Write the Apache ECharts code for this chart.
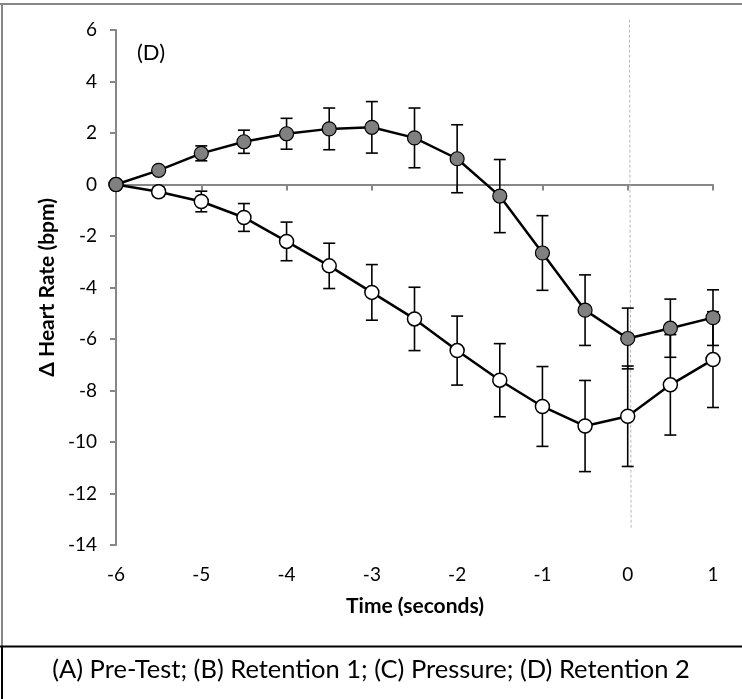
<!DOCTYPE html>
<html>
<head>
<meta charset="utf-8">
<script src="https://cdn.jsdelivr.net/npm/echarts@6/dist/echarts.min.js"></script>
<style>html,body{margin:0;padding:0;background:#fff}#c{width:742px;height:699px}</style>
</head>
<body>
<div id="c"></div>
<script>
var times = [-6, -5.5, -5, -4.5, -4, -3.5, -3, -2.5, -2, -1.5, -1, -0.5, 0, 0.5, 1];
var grayMean = [0, 0.55, 1.21, 1.66, 1.97, 2.16, 2.22, 1.81, 1.0, -0.45, -2.66, -4.88, -5.98, -5.58, -5.17];
var grayErr  = [0, 0.08, 0.29, 0.45, 0.6, 0.81, 1.0, 1.16, 1.32, 1.42, 1.45, 1.37, 1.18, 1.13, 1.08];
var whiteMean = [0, -0.28, -0.66, -1.28, -2.21, -3.16, -4.19, -5.22, -6.45, -7.6, -8.62, -9.38, -9.0, -7.78, -6.8];
var whiteErr  = [0, 0.18, 0.4, 0.54, 0.75, 0.88, 1.08, 1.23, 1.34, 1.42, 1.55, 1.77, 1.95, 1.95, 1.86];
var xTicks = [-6, -5, -4, -3, -2, -1, 0, 1];
var yTicks = [-14, -12, -10, -8, -6, -4, -2, 0, 2, 4, 6];
var refLine = [[0.02, 6.4], [0.04, -13.4]];
var panelLabel = '(D)';
var yTitle = 'Δ Heart Rate (bpm)';
var xTitle = 'Time (seconds)';
var caption = '(A) Pre-Test; (B) Retention 1; (C) Pressure; (D) Retention 2';

function pairs(m) { return times.map(function (t, i) { return [t, m[i]]; }); }
function bars(m, e) { return times.map(function (t, i) { return [t, m[i] - e[i], m[i] + e[i]]; }); }

var FONT = 'Lato';
function errRender(params, api) {
  var x = api.value(0);
  var lo = api.coord([x, api.value(1)]);
  var hi = api.coord([x, api.value(2)]);
  var w = 6;
  var st = { stroke: '#000', lineWidth: 1.6 };
  return {
    type: 'group',
    children: [
      { type: 'line', shape: { x1: lo[0], y1: lo[1], x2: hi[0], y2: hi[1] }, style: st },
      { type: 'line', shape: { x1: lo[0] - w, y1: lo[1], x2: lo[0] + w, y2: lo[1] }, style: st },
      { type: 'line', shape: { x1: hi[0] - w, y1: hi[1], x2: hi[0] + w, y2: hi[1] }, style: st }
    ]
  };
}

var chart = echarts.init(document.getElementById('c'));
chart.setOption({
  animation: false,
  backgroundColor: '#fff',
  grid: { left: 116, right: 29, top: 30, bottom: 154 },
  xAxis: [
    {
      type: 'value', min: -6, max: 1, interval: 1,
      axisLine: { onZero: true, lineStyle: { color: '#878787', width: 2 } },
      axisTick: { show: true, length: 6, lineStyle: { color: '#878787', width: 2 } },
      axisLabel: { show: false },
      splitLine: { show: false }
    },
    {
      type: 'value', min: -6, max: 1, interval: 1, position: 'bottom',
      axisLine: { show: false, onZero: false },
      axisTick: { show: false },
      axisLabel: { margin: 20, fontFamily: FONT, fontSize: 19, color: '#000',
        formatter: function (v) { return xTicks.indexOf(v) >= 0 ? String(v) : ''; } },
      splitLine: { show: false }
    }
  ],
  yAxis: {
    type: 'value', min: -14, max: 6, interval: 2,
    axisLine: { show: true, onZero: false, lineStyle: { color: '#878787', width: 2 } },
    axisTick: { show: true, length: 6, lineStyle: { color: '#878787', width: 2 } },
    axisLabel: { margin: 19, fontFamily: FONT, fontSize: 19, color: '#000',
      formatter: function (v) { return yTicks.indexOf(v) >= 0 ? String(v) : ''; } },
    splitLine: { show: false }
  },
  series: [
    {
      type: 'line', data: refLine, symbol: 'none', clip: false, silent: true,
      lineStyle: { color: '#b8b8b8', width: 1, type: [3, 2] }, z: 1
    },
    { type: 'custom', data: bars(whiteMean, whiteErr), renderItem: errRender, z: 2, clip: false },
    { type: 'custom', data: bars(grayMean, grayErr), renderItem: errRender, z: 2, clip: false },
    {
      type: 'line', data: pairs(whiteMean), symbol: 'circle', symbolSize: 14, z: 3,
      lineStyle: { color: '#000', width: 2.5 },
      itemStyle: { color: '#fff', borderColor: '#000', borderWidth: 1.5 }
    },
    {
      type: 'line', data: pairs(grayMean), symbol: 'circle', symbolSize: 14, z: 4,
      lineStyle: { color: '#000', width: 2.5 },
      itemStyle: { color: '#808080', borderColor: '#000', borderWidth: 1.2 }
    }
  ],
  graphic: [
    { type: 'line', shape: { x1: 0, y1: 4, x2: 742, y2: 4 }, style: { stroke: '#878787', lineWidth: 2 } },
    { type: 'line', shape: { x1: 2, y1: 4, x2: 2, y2: 646 }, style: { stroke: '#878787', lineWidth: 2 } },
    { type: 'line', shape: { x1: 0, y1: 646.5, x2: 742, y2: 646.5 }, style: { stroke: '#000', lineWidth: 2 } },
    { type: 'line', shape: { x1: 2, y1: 646, x2: 2, y2: 699 }, style: { stroke: '#000', lineWidth: 2 } },
    { type: 'text', left: 137, top: 42, style: { text: panelLabel, font: '22px ' + FONT, fill: '#000' } },
    { type: 'text', left: 37, top: 198, rotation: Math.PI / 2, style: { text: yTitle, font: 'bold 21px ' + FONT, fill: '#000' } },
    { type: 'text', x: 415, y: 606, style: { text: xTitle, font: 'bold 21px ' + FONT, fill: '#000', textAlign: 'center', textVerticalAlign: 'middle' } },
    { type: 'text', x: 371, y: 670, style: { text: caption, font: '25.5px ' + FONT, fill: '#000', textAlign: 'center', textVerticalAlign: 'middle' } }
  ]
});
</script>
</body>
</html>
